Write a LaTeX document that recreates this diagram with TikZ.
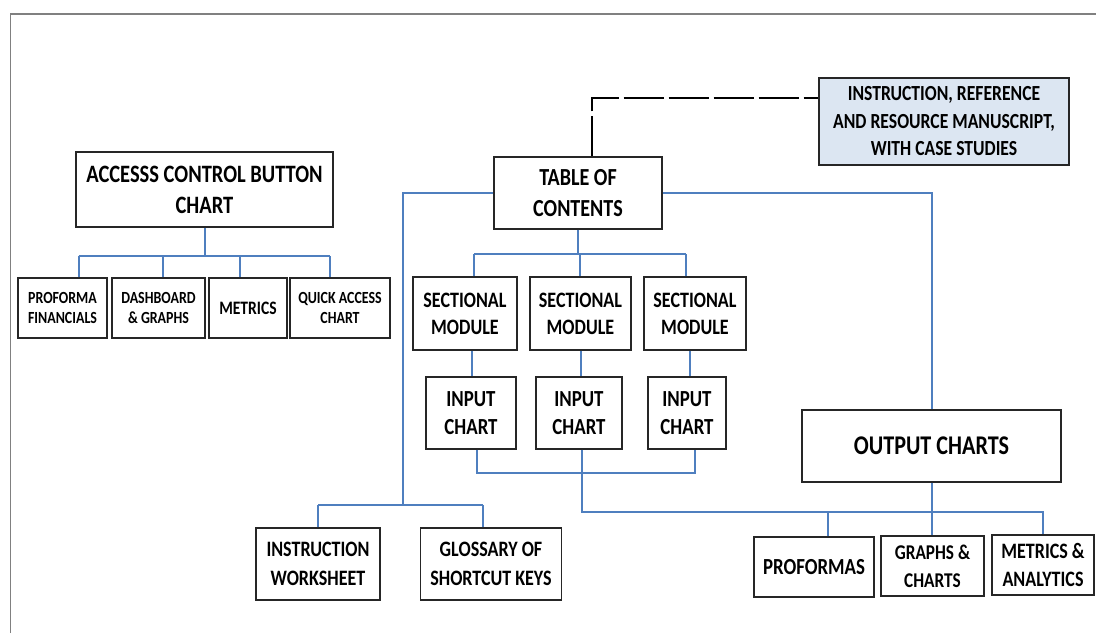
\documentclass[tikz,border=0pt]{standalone}
\usepackage{fontspec}
\setmainfont{Carlito}[FakeStretch=0.82]
\definecolor{linkblue}{HTML}{4F7FBF}
\definecolor{manfill}{HTML}{DCE6F2}
\definecolor{framegray}{HTML}{808080}
\definecolor{boxline}{HTML}{262626}
\newcommand\boxfont[2]{\fontsize{#1}{#2}\selectfont\bfseries}

\begin{document}
\begin{tikzpicture}[
                x=1pt, y=-1pt,
                box/.style={
                        draw=boxline, line width=1.3pt, fill=white,
                        align=center, inner sep=0pt
                    },
                kid/.style={box, minimum height=60pt, font=\boxfont{17}{20}},
                secbox/.style={box, minimum height=73pt, font=\boxfont{22}{27}},
                inbox/.style={box, minimum height=72pt, font=\boxfont{23}{28}},
                leaf/.style={box, minimum height=60pt, font=\boxfont{22}{28}},
                link/.style={draw=linkblue, line width=2pt},
                dashline/.style={draw=black, line width=2pt, dash pattern=on 40pt off 5pt},
                ]
                \useasboundingbox (0,0) rectangle (1096,633);
                \draw[framegray, line width=1.5pt] (10.5,633) -- (10.5,14) -- (1096,14);

                % left block
                \node[box, minimum width=257pt, minimum height=75pt, font=\boxfont{25}{31}] (acc) at (204.5,189.5) {ACCESSS CONTROL BUTTON\\CHART};
                \node[kid, minimum width=89pt] (pf) at (62.5,308) {PROFORMA\\FINANCIALS};
                \node[kid, minimum width=93pt] (db) at (158.5,308) {DASHBOARD\\\& GRAPHS};
                \node[kid, minimum width=78pt, font=\boxfont{19}{22}] (met) at (248,308) {METRICS};
                \node[kid, minimum width=100pt] (qa) at (340,308) {QUICK ACCESS\\CHART};

                % top
                \node[box, minimum width=168pt, minimum height=72pt, font=\boxfont{24.5}{31}] (toc) at (578,193) {TABLE OF\\CONTENTS};
                \node[box, fill=manfill, minimum width=250pt, minimum height=87pt, font=\boxfont{21.5}{27.5}] (man) at (944,121.5) {INSTRUCTION, REFERENCE\\AND RESOURCE MANUSCRIPT,\\WITH CASE STUDIES};

                % modules
                \node[secbox, minimum width=104pt] (sec1) at (465,313.5) {SECTIONAL\\MODULE};
                \node[secbox, minimum width=101pt] (sec2) at (580.5,313.5) {SECTIONAL\\MODULE};
                \node[secbox, minimum width=102pt] (sec3) at (695,313.5) {SECTIONAL\\MODULE};
                \node[inbox, minimum width=90pt] (in1) at (471,413) {INPUT\\CHART};
                \node[inbox, minimum width=86pt] (in2) at (579,413) {INPUT\\CHART};
                \node[inbox, minimum width=78pt] (in3) at (687,413) {INPUT\\CHART};

                % outputs
                \node[box, minimum width=259pt, minimum height=72pt, font=\boxfont{27}{32}] (out) at (931.5,446) {OUTPUT CHARTS};
                \node[leaf, minimum width=120pt, font=\boxfont{23}{28}] (pro) at (814,567) {PROFORMAS};
                \node[leaf, minimum width=103pt, font=\boxfont{21}{28}] (gr) at (932.5,566) {GRAPHS \&\\CHARTS};
                \node[leaf, minimum width=102pt] (ma) at (1043,565) {METRICS \&\\ANALYTICS};

                % bottom left
                \node[leaf, minimum width=124pt, minimum height=72pt, font=\boxfont{22}{28.5}] (iw) at (318,564) {INSTRUCTION\\WORKSHEET};
                \node[leaf, minimum width=141.5pt, minimum height=72pt, font=\boxfont{22}{28.5}] (gl) at (491,564) {GLOSSARY OF\\SHORTCUT KEYS};

                % connectors
                \draw[dashline] ([xshift=14pt]toc.north) |- ([yshift=23.5pt]man.west);

                \draw[link] (acc.south) -- ++(0,28) coordinate (accbus);
                \draw[link] ([xshift=16pt]pf.north |- accbus) -- ([xshift=-10pt]qa.north |- accbus);
                \foreach \n/\dx in {pf/16, db/4, met/-8, qa/-10}
                    \draw[link] ([xshift=\dx pt]\n.north) -- ([xshift=\dx pt]\n.north |- accbus);

                \draw[link] (toc.south) -- ++(0,24) coordinate (secbus);
                \draw[link] ([xshift=9pt]sec1.north |- secbus) -- ([xshift=-9pt]sec3.north |- secbus);
                \foreach \n/\dx in {sec1/9, sec2/-1, sec3/-9}
                    \draw[link] ([xshift=\dx pt]\n.north) -- ([xshift=\dx pt]\n.north |- secbus);
                \draw[link] ([xshift=7pt]sec1.south) -- ([xshift=7pt]sec1.south |- in1.north);
                \draw[link] (sec2.south) -- (sec2.south |- in2.north);
                \draw[link] ([xshift=-5pt]sec3.south) -- ([xshift=-5pt]sec3.south |- in3.north);

                \coordinate (inbus) at (0,473);
                \coordinate (outbus) at (0,512);
                \draw[link] ([xshift=6pt]in1.south) |- ([xshift=8pt]in3.south |- inbus) -- ([xshift=8pt]in3.south);
                \draw[link] ([xshift=3pt]in2.south) |- (ma.north |- outbus) -- (ma.north);
                \draw[link] ([xshift=14pt]pro.north) -- ([xshift=14pt]pro.north |- outbus);
                \draw[link] (out.south) -- (out.south |- gr.north);
                \draw[link] (toc.east) -| (out.north);

                \coordinate (leftbus) at (403,505);
                \draw[link] (toc.west) -| (leftbus);
                \draw[link] (iw.north |- leftbus) -- ([xshift=-8pt]gl.north |- leftbus);
                \draw[link] (iw.north) -- (iw.north |- leftbus);
                \draw[link] ([xshift=-8pt]gl.north) -- ([xshift=-8pt]gl.north |- leftbus);
            \end{tikzpicture}
\end{document}
